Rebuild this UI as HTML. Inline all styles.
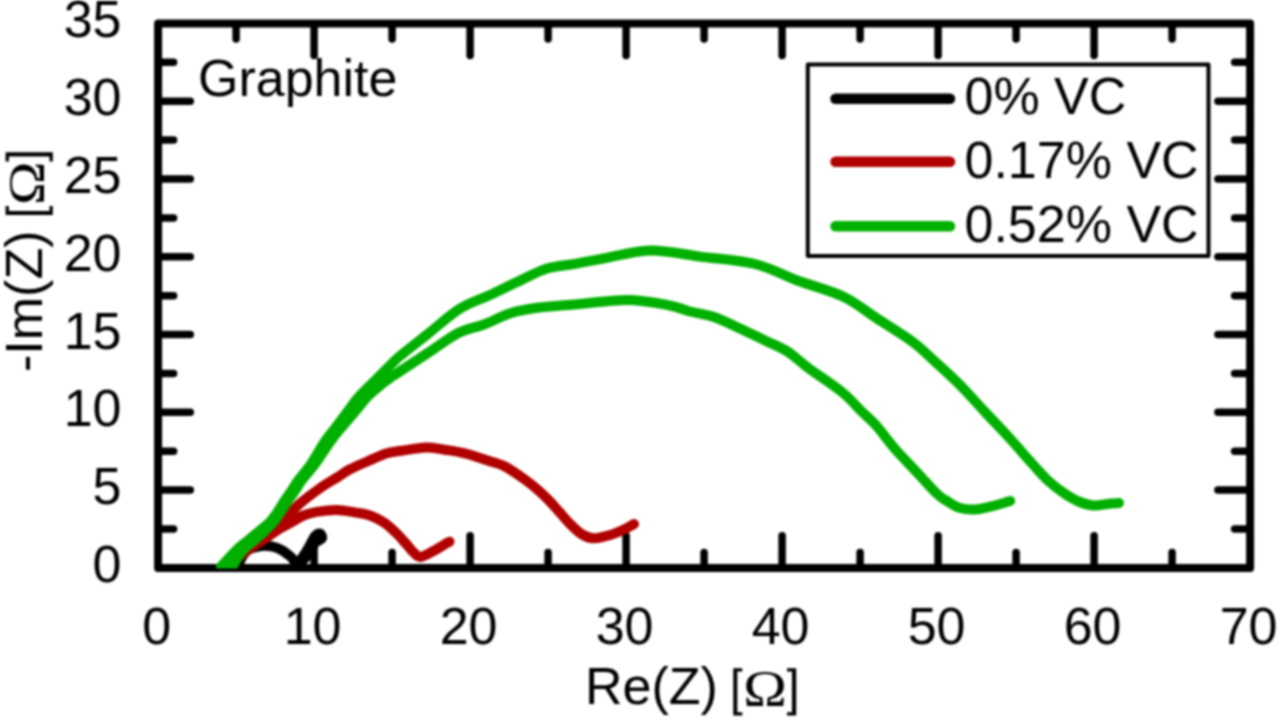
<!DOCTYPE html>
<html><head><meta charset="utf-8"><style>
html,body{margin:0;padding:0;background:#fff;}
svg{display:block;filter:blur(1px);}
text{font-family:"Liberation Sans", sans-serif;font-size:52px;fill:#000;}
.om{font-family:"Liberation Serif",serif;font-size:51.5px;}
</style></head><body>
<svg width="1280" height="720" viewBox="0 0 1280 720">
<rect x="0" y="0" width="1280" height="720" fill="#fff"/>
<path d="M236.1,566.9V552.4M236.1,24.4V38.9M314.1,566.9V535.7M314.1,24.4V55.6M392.1,566.9V552.4M392.1,24.4V38.9M470.1,566.9V535.7M470.1,24.4V55.6M548.1,566.9V552.4M548.1,24.4V38.9M626.1,566.9V535.7M626.1,24.4V55.6M704.1,566.9V552.4M704.1,24.4V38.9M782.1,566.9V535.7M782.1,24.4V55.6M860.1,566.9V552.4M860.1,24.4V38.9M938.1,566.9V535.7M938.1,24.4V55.6M1016.1,566.9V552.4M1016.1,24.4V38.9M1094.1,566.9V535.7M1094.1,24.4V55.6M1172.1,566.9V552.4M1172.1,24.4V38.9M159.1,529.0H173.6M1249.1,529.0H1234.6M159.1,490.1H190.3M1249.1,490.1H1217.9M159.1,451.2H173.6M1249.1,451.2H1234.6M159.1,412.3H190.3M1249.1,412.3H1217.9M159.1,373.4H173.6M1249.1,373.4H1234.6M159.1,334.5H190.3M1249.1,334.5H1217.9M159.1,295.7H173.6M1249.1,295.7H1234.6M159.1,256.8H190.3M1249.1,256.8H1217.9M159.1,217.9H173.6M1249.1,217.9H1234.6M159.1,179.0H190.3M1249.1,179.0H1217.9M159.1,140.1H173.6M1249.1,140.1H1234.6M159.1,101.2H190.3M1249.1,101.2H1217.9M159.1,62.3H173.6M1249.1,62.3H1234.6" stroke="#000" stroke-width="7.5" stroke-linecap="round" fill="none"/>
<rect x="158.1" y="23.4" width="1092.0" height="544.5" fill="none" stroke="#000" stroke-width="8" stroke-linejoin="round"/>
<defs><clipPath id="pc"><rect x="158.1" y="23.4" width="1092.0" height="545.0"/></clipPath></defs>
<g fill="none" stroke-linecap="round" stroke-linejoin="round" stroke-width="10" clip-path="url(#pc)">
<path d="M238,566 C238.7,564.5 240.2,559.8 242,557 C243.8,554.2 245.8,551.3 249,549.5 C252.2,547.7 257.2,546.5 261,546 C264.8,545.5 268.1,545.7 271.6,546.4 C275.1,547.1 279.0,548.5 282.2,550.3 C285.4,552.1 288.5,554.9 291,557 C293.5,559.1 294.8,563.3 297,563 C299.2,562.7 301.8,558.0 304,555 C306.2,552.0 308.2,548.2 310,545 C311.8,541.8 313.3,537.9 315,536 C316.7,534.1 318.8,533.2 320,533.5 C321.2,533.8 322.3,536.8 322,538 C321.7,539.2 318.7,540.5 318,541" stroke="#000"/>
<path d="M293,568 C294.3,567.0 298.5,564.2 301,562 C303.5,559.8 306.2,557.2 308,555 C309.8,552.8 310.8,551.2 312,549 C313.2,546.8 314.5,543.2 315,542" stroke="#000"/>
<path d="M236,559 C238.5,556.9 246.2,550.2 251,546.5 C255.8,542.8 260.3,540.4 265,537 C269.7,533.6 275.0,529.7 279,526 C283.0,522.3 285.6,518.7 289,515 C292.4,511.3 294.4,508.3 299.4,504 C304.4,499.7 312.4,493.6 318.9,489 C325.4,484.4 333.1,480.0 338.3,476.7 C343.5,473.4 345.2,471.8 350,469.3 C354.8,466.8 361.2,464.1 367.2,461.5 C373.2,458.9 380.4,455.2 386.1,453.4 C391.8,451.6 395.0,451.8 401.6,450.8 C408.2,449.8 418.5,447.7 425.6,447.5 C432.8,447.3 437.9,448.7 444.5,449.7 C451.1,450.7 457.4,451.5 465,453.4 C472.6,455.3 483.3,459.1 490,461.25 C496.7,463.4 499.1,463.4 505,466.5 C510.9,469.6 520.0,476.1 525.5,480 C531.0,483.9 534.1,486.6 538,490 C541.9,493.4 545.4,496.9 549,500.6 C552.6,504.3 555.9,508.2 559.5,512.2 C563.1,516.2 566.8,520.7 570.5,524.4 C574.2,528.1 578.2,532.1 582,534.4 C585.8,536.7 588.8,538.2 593.5,538.3 C598.2,538.4 604.9,536.5 610,535 C615.1,533.5 620.0,531.3 624,529.5 C628.0,527.7 632.3,524.9 634,524" stroke="#b00000"/>
<path d="M236,559 C238.5,557.2 246.0,551.5 251,548 C256.0,544.5 261.2,541.2 266,538 C270.8,534.8 275.5,531.2 280,528.5 C284.5,525.8 289.1,523.7 293,521.5 C296.9,519.3 299.4,517.1 303.3,515.5 C307.2,513.9 311.1,512.8 316.6,511.9 C322.1,511.0 329.9,509.8 336.5,509.9 C343.1,510.0 350.8,511.7 356.4,512.6 C362.0,513.5 365.3,513.8 370,515.5 C374.7,517.2 380.1,519.7 384.6,522.8 C389.1,525.9 393.5,530.4 397.2,534 C400.9,537.6 404.1,541.6 406.9,544.7 C409.6,547.8 411.4,550.5 413.7,552.5 C416.0,554.5 417.3,557.1 420.5,556.9 C423.7,556.7 429.0,553.4 433,551.3 C437.0,549.2 441.8,546.1 444.5,544.5 C447.2,542.9 448.7,542.2 449.5,541.7" stroke="#b00000"/>
<path d="M221,566.5 C223.6,563.8 231.8,554.4 236.4,550 C241.0,545.6 244.5,543.3 248.5,540 C252.5,536.7 256.8,533.1 260.5,530 C264.2,526.9 267.7,524.4 270.6,521.3 C273.5,518.2 275.6,514.9 278,511.3 C280.4,507.8 282.7,503.6 285,500 C287.3,496.4 289.8,493.3 292,490 C294.2,486.7 295.3,484.3 298.5,480 C301.7,475.7 306.7,470.3 311,464 C315.3,457.7 320.3,448.2 324.5,442 C328.7,435.8 332.1,432.2 336,427 C339.9,421.8 344.2,416.1 348,411 C351.8,405.9 354.8,401.4 359,396.7 C363.2,391.9 367.5,388.0 373,382.5 C378.5,377.0 387.5,367.9 392,363.5 C396.5,359.1 394.0,360.9 400,356 C406.0,351.1 417.9,341.8 427.8,334 C437.7,326.2 449.0,315.5 459.4,309 C469.8,302.5 479.9,299.7 490,295 C500.1,290.3 510.5,285.0 520,280.6 C529.5,276.2 537.8,271.3 547,268.5 C556.2,265.7 566.2,265.4 575,263.8 C583.8,262.2 587.5,261.4 600,259.2 C612.5,257.0 633.3,250.8 650,250.4 C666.7,250.0 682.5,254.3 700,256.6 C717.5,258.9 738.7,260.0 755,264 C771.3,268.0 783.2,275.2 798,280.7 C812.8,286.1 830.3,290.4 843.5,296.7 C856.7,303.0 865.5,311.0 877,318.5 C888.5,326.0 902.7,334.4 912.5,341.7 C922.3,349.0 928.0,355.2 936,362.5 C944.0,369.8 952.3,377.2 960.5,385.5 C968.7,393.8 976.9,403.3 985,412 C993.1,420.7 1001.1,428.8 1009,437.5 C1016.9,446.2 1026.1,456.9 1032.5,464 C1038.9,471.1 1042.2,475.2 1047.5,480.1 C1052.8,485.0 1058.8,489.6 1064,493.2 C1069.2,496.8 1073.7,499.5 1078.6,501.5 C1083.5,503.5 1088.3,505.0 1093.2,505.4 C1098.1,505.8 1103.4,504.3 1107.7,503.9 C1112.0,503.5 1117.1,503.1 1119,503" stroke="#00b000"/>
<path d="M231,569 C232.8,566.2 237.4,556.9 241.5,552 C245.6,547.1 251.3,543.2 255.5,539.5 C259.7,535.8 263.3,532.6 266.5,529.5 C269.7,526.4 272.1,524.0 274.5,521 C276.9,518.0 278.7,514.8 281,511.3 C283.3,507.8 286.1,503.6 288.5,500 C290.9,496.4 293.2,493.3 295.5,490 C297.8,486.7 298.8,484.3 302,480 C305.2,475.7 310.3,470.3 315,464 C319.7,457.7 325.7,448.0 330,442 C334.3,436.0 336.6,433.3 341,428 C345.4,422.7 352.0,415.2 356.4,410 C360.8,404.8 363.1,401.1 367.5,396.7 C371.9,392.2 379.2,386.5 383,383.3 C386.8,380.1 387.8,379.4 390.5,377.5 C393.2,375.6 392.8,376.1 399,372 C405.2,367.9 417.9,359.5 427.8,353 C437.7,346.5 449.1,337.7 458.3,333 C467.6,328.3 474.5,328.0 483.3,324.7 C492.1,321.4 501.8,315.9 511.1,313 C520.4,310.1 528.4,308.9 538.9,307.5 C549.4,306.1 559.6,305.8 574.4,304.5 C589.2,303.2 612.0,299.9 627.7,300 C643.5,300.1 658.5,303.4 668.9,305.3 C679.3,307.2 682.5,309.6 690,311.5 C697.5,313.4 705.7,314.2 714,317 C722.3,319.8 731.5,324.6 740,328.5 C748.5,332.4 757.1,336.7 765,340.5 C772.9,344.3 780.2,346.8 787.5,351.5 C794.8,356.2 799.8,361.7 809,368.5 C818.2,375.3 833.7,385.3 842.5,392.5 C851.3,399.7 856.4,406.3 862,411.8 C867.6,417.3 870.6,419.2 876,425.3 C881.4,431.4 887.8,440.6 894.4,448.2 C901.0,455.8 908.7,463.5 915.8,471.1 C922.9,478.7 932.0,489.0 937.2,494 C942.4,499.0 943.3,498.7 947,501 C950.7,503.3 954.6,506.4 959.3,507.8 C964.0,509.2 969.5,509.8 975,509.5 C980.5,509.2 986.3,507.6 992.2,506.2 C998.1,504.8 1007.2,501.9 1010.2,501" stroke="#00b000"/>
</g>
<rect x="807.8" y="64.6" width="400.7" height="191.3" fill="#fff" stroke="#000" stroke-width="4" stroke-linejoin="round"/>
<g stroke-width="10.5" stroke-linecap="round">
<path d="M835.5,98.7H950" stroke="#000"/>
<path d="M835.5,161.8H950" stroke="#b00000"/>
<path d="M835.5,226.3H950" stroke="#00b000"/>
</g>
<text x="964.5" y="113.5">0% VC</text>
<text x="964.5" y="178.2">0.17% VC</text>
<text x="964.5" y="242">0.52% VC</text>
<text x="198" y="96">Graphite</text>
<text x="121.5" y="581.9" text-anchor="end">0</text><text x="121.5" y="504.1" text-anchor="end">5</text><text x="121.5" y="426.3" text-anchor="end">10</text><text x="121.5" y="348.5" text-anchor="end">15</text><text x="121.5" y="270.8" text-anchor="end">20</text><text x="121.5" y="193.0" text-anchor="end">25</text><text x="121.5" y="115.2" text-anchor="end">30</text><text x="121.5" y="37.4" text-anchor="end">35</text>
<text x="156.6" y="644" text-anchor="middle">0</text><text x="312.6" y="644" text-anchor="middle">10</text><text x="468.6" y="644" text-anchor="middle">20</text><text x="624.6" y="644" text-anchor="middle">30</text><text x="780.6" y="644" text-anchor="middle">40</text><text x="936.6" y="644" text-anchor="middle">50</text><text x="1092.6" y="644" text-anchor="middle">60</text><text x="1248.6" y="644" text-anchor="middle">70</text>
<g transform="translate(585,704.4)"><text x="0" y="0">Re(Z) </text><g transform="translate(147.3,0)"><path d="M1,-36.1H10V-32.8H5V7.8H10V11.1H1Z M63.9,-36.1H54.7V-32.8H59.7V7.8H54.7V11.1H63.9Z" fill="#000"/><text transform="translate(11,1) scale(1.14,1)" class="om">Ω</text></g></g>
<g transform="translate(41.7,372) rotate(-90)"><text x="0" y="0">-Im(Z) </text><g transform="translate(155.9,0)"><path d="M1,-36.1H10V-32.8H5V7.8H10V11.1H1Z M63.9,-36.1H54.7V-32.8H59.7V7.8H54.7V11.1H63.9Z" fill="#000"/><text transform="translate(11,1) scale(1.14,1)" class="om">Ω</text></g></g>
</svg>
</body></html>
